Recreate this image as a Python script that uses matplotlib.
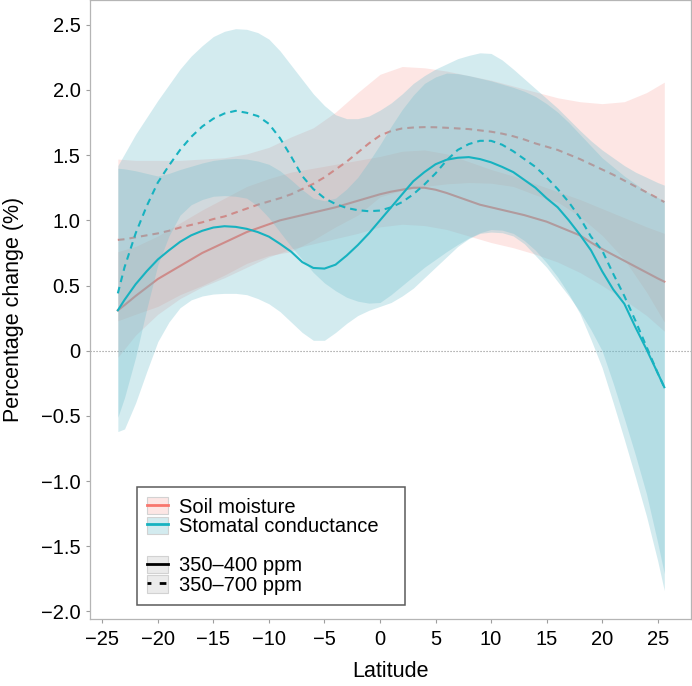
import matplotlib
matplotlib.use('Agg')
import matplotlib.pyplot as plt
from matplotlib.colors import to_rgba
from matplotlib.patches import Patch
from matplotlib.lines import Line2D

plt.rcParams['font.family'] = ['Liberation Sans', 'DejaVu Sans']

# latitudes the fitted lines (and stomatal bands) were read at, 1 degree steps
lat_line = [-23.6] + list(range(-23, 26)) + [25.6]

soil_400 = [0.31, 0.35, 0.42, 0.485, 0.55, 0.60, 0.65, 0.70, 0.75, 0.79, 0.83, 0.87, 0.91,
            0.94, 0.97, 1.00, 1.02, 1.04, 1.06, 1.08, 1.10, 1.125, 1.15, 1.175, 1.20, 1.22,
            1.235, 1.25, 1.25, 1.235, 1.21, 1.18, 1.15, 1.12, 1.10, 1.08, 1.06, 1.04, 1.015,
            0.99, 0.955, 0.92, 0.885, 0.83, 0.78, 0.735, 0.69, 0.645, 0.60, 0.555, 0.53]
soil_700 = [0.85, 0.855, 0.87, 0.885, 0.90, 0.92, 0.945, 0.965, 0.985, 1.01, 1.03, 1.06, 1.09,
            1.12, 1.145, 1.17, 1.20, 1.24, 1.28, 1.33, 1.39, 1.45, 1.52, 1.59, 1.65, 1.685,
            1.705, 1.712, 1.715, 1.714, 1.71, 1.705, 1.70, 1.69, 1.68, 1.665, 1.645, 1.62, 1.59,
            1.565, 1.54, 1.505, 1.47, 1.43, 1.39, 1.35, 1.305, 1.26, 1.215, 1.17, 1.14]
stom_400 = [0.31, 0.39, 0.51, 0.61, 0.70, 0.77, 0.835, 0.885, 0.92, 0.945, 0.955, 0.95, 0.935,
            0.91, 0.875, 0.82, 0.76, 0.68, 0.635, 0.63, 0.66, 0.73, 0.81, 0.90, 1.00, 1.10,
            1.20, 1.30, 1.37, 1.43, 1.465, 1.48, 1.485, 1.47, 1.445, 1.41, 1.37, 1.31, 1.25,
            1.17, 1.10, 1.00, 0.89, 0.77, 0.61, 0.47, 0.36, 0.18, 0.01, -0.17, -0.28]
stom_700 = [0.44, 0.64, 0.90, 1.11, 1.29, 1.42, 1.54, 1.64, 1.72, 1.78, 1.82, 1.84, 1.825,
            1.80, 1.74, 1.63, 1.49, 1.34, 1.24, 1.17, 1.125, 1.095, 1.078, 1.07, 1.075, 1.10,
            1.14, 1.20, 1.275, 1.36, 1.46, 1.54, 1.585, 1.61, 1.61, 1.58, 1.53, 1.47, 1.41,
            1.33, 1.24, 1.14, 1.02, 0.875, 0.77, 0.59, 0.42, 0.23, 0.03, -0.17, -0.28]

stom_400_hi = [1.40, 1.395, 1.38, 1.36, 1.34, 1.36, 1.39, 1.415, 1.44, 1.46, 1.47, 1.475, 1.47,
               1.455, 1.43, 1.38, 1.31, 1.235, 1.17, 1.15, 1.17, 1.24, 1.33, 1.45, 1.58, 1.72,
               1.85, 1.96, 2.05, 2.10, 2.13, 2.125, 2.11, 2.09, 2.07, 2.045, 2.02, 1.99, 1.95,
               1.895, 1.83, 1.75, 1.66, 1.57, 1.48, 1.41, 1.34, 1.28, 1.22, 1.175, 1.15]
stom_400_lo = [-0.62, -0.60, -0.40, -0.16, 0.07, 0.22, 0.33, 0.39, 0.42, 0.435, 0.44, 0.44, 0.43,
               0.40, 0.36, 0.30, 0.22, 0.14, 0.08, 0.08, 0.14, 0.21, 0.27, 0.31, 0.34, 0.37,
               0.42, 0.48, 0.56, 0.64, 0.72, 0.80, 0.86, 0.90, 0.91, 0.905, 0.88, 0.82, 0.73,
               0.64, 0.53, 0.42, 0.30, 0.16, 0.00, -0.25, -0.52, -0.80, -1.10, -1.47, -1.71]
stom_700_hi = [1.42, 1.51, 1.66, 1.79, 1.92, 2.04, 2.16, 2.26, 2.34, 2.41, 2.45, 2.47, 2.465,
               2.44, 2.39, 2.30, 2.19, 2.08, 1.97, 1.88, 1.81, 1.78, 1.78, 1.80, 1.845, 1.90,
               1.97, 2.05, 2.11, 2.16, 2.20, 2.24, 2.265, 2.285, 2.28, 2.23, 2.16, 2.085, 2.01,
               1.935, 1.86, 1.775, 1.69, 1.61, 1.54, 1.48, 1.42, 1.37, 1.33, 1.29, 1.27]
stom_700_lo = [-0.51, -0.36, -0.05, 0.32, 0.66, 0.88, 1.04, 1.12, 1.16, 1.185, 1.19, 1.185, 1.17,
               1.11, 1.02, 0.91, 0.80, 0.70, 0.60, 0.52, 0.46, 0.41, 0.38, 0.365, 0.37, 0.43,
               0.50, 0.57, 0.64, 0.70, 0.76, 0.815, 0.865, 0.905, 0.93, 0.925, 0.90, 0.845, 0.77,
               0.675, 0.565, 0.435, 0.285, 0.085, -0.13, -0.40, -0.68, -0.97, -1.27, -1.61, -1.84]

# latitudes the soil moisture bands were read at, 2 degree steps
lat_band = [-23.6, -22, -20, -18, -16, -14, -12, -10, -8, -6, -4, -2, 0,
            2, 4, 6, 8, 10, 12, 14, 16, 18, 20, 22, 24, 25.6]

soil_400_hi = [0.76, 0.80, 0.88, 0.98, 1.08, 1.17, 1.26, 1.32, 1.37, 1.40, 1.43, 1.46, 1.49,
               1.53, 1.54, 1.51, 1.45, 1.39, 1.34, 1.28, 1.22, 1.16, 1.09, 1.02, 0.95, 0.90]
soil_400_lo = [-0.05, 0.12, 0.28, 0.40, 0.49, 0.56, 0.64, 0.72, 0.78, 0.82, 0.86, 0.90, 0.95,
               0.97, 0.96, 0.93, 0.88, 0.83, 0.79, 0.74, 0.68, 0.60, 0.50, 0.39, 0.27, 0.15]
soil_700_hi = [1.47, 1.46, 1.46, 1.46, 1.47, 1.48, 1.51, 1.56, 1.64, 1.71, 1.83, 1.98, 2.12,
               2.18, 2.17, 2.145, 2.11, 2.075, 2.03, 1.985, 1.94, 1.91, 1.895, 1.91, 1.98, 2.06]
soil_700_lo = [0.23, 0.28, 0.34, 0.43, 0.50, 0.58, 0.67, 0.73, 0.76, 0.85, 0.95, 1.04, 1.18,
               1.23, 1.26, 1.28, 1.29, 1.285, 1.26, 1.195, 1.14, 1.03, 0.885, 0.70, 0.45, 0.22]

yticks = [2.5, 2.0, 1.5, 1.0, 0.5, 0, -0.5, -1.0, -1.5, -2.0]
ytick_labels = ['2.5', '2.0', '1.5', '1.0', '0.5', '0', '\u22120.5', '\u22121.0', '\u22121.5', '\u22122.0']
xticks = [-25, -20, -15, -10, -5, 0, 5, 10, 15, 20, 25]

SOIL = '#F8766D'
STOM = '#17B2C0'
STOM_FILL = '#6EBECD'
SOIL_A = 0.18
STOM_A = 0.30
DASH = (0, (3.2, 2.4))

fig = plt.figure(figsize=(6.92, 6.86), dpi=100)
ax = fig.add_axes([0.1305, 0.0972, 0.868, 0.9028])

ax.axhline(0, color='#8C8C8C', lw=0.8, ls=(0, (1, 1.7)), zorder=0.5)

# soil moisture ribbons and lines sit underneath the stomatal ribbons
ax.fill_between(lat_band, soil_400_lo, soil_400_hi, color=SOIL, alpha=SOIL_A, lw=0, zorder=1)
ax.fill_between(lat_band, soil_700_lo, soil_700_hi, color=SOIL, alpha=SOIL_A, lw=0, zorder=1)
ax.plot(lat_line, soil_400, color=SOIL, lw=1.5, zorder=1.2)
ax.plot(lat_line, soil_700, color=SOIL, lw=1.5, ls=DASH, zorder=1.2)

ax.fill_between(lat_line, stom_400_lo, stom_400_hi, color=STOM_FILL, alpha=STOM_A, lw=0, zorder=1.4)
ax.fill_between(lat_line, stom_700_lo, stom_700_hi, color=STOM_FILL, alpha=STOM_A, lw=0, zorder=1.4)
ax.plot(lat_line, stom_400, color=STOM, lw=1.5, zorder=2)
ax.plot(lat_line, stom_700, color=STOM, lw=1.5, ls=DASH, zorder=2)

ax.set_xlim(-26.08, 28.0)
ax.set_ylim(-2.06, 2.69)
ax.set_xticks(xticks)
ax.set_yticks(yticks)
ax.set_yticklabels(ytick_labels)
ax.tick_params(direction='out', length=3, width=0.8, color='#9E9E9E',
               labelsize=14.5, labelcolor='black')
ax.tick_params(axis='x', pad=4.5)
ax.tick_params(axis='y', pad=4)
for sp in ax.spines.values():
    sp.set_color('#B5B5B5')
    sp.set_linewidth(0.9)

ax.set_xlabel('Latitude', fontsize=15.5)
ax.set_ylabel('Percentage change (%)', fontsize=15.5)
ax.xaxis.set_label_coords(0.5, -0.067)
ax.yaxis.set_label_coords(-0.11, 0.5)

# legend: colour keys, a blank row, then line-type keys
edge = '#D2D2D2'
handles = [
    (Patch(facecolor=to_rgba(SOIL, SOIL_A), edgecolor=edge, lw=0.8), Line2D([], [], color=SOIL, lw=2)),
    (Patch(facecolor=to_rgba(STOM_FILL, STOM_A), edgecolor=edge, lw=0.8), Line2D([], [], color=STOM, lw=2)),
    Patch(facecolor='none', edgecolor='none'),
    (Patch(facecolor='#EBEBEB', edgecolor=edge, lw=0.8), Line2D([], [], color='black', lw=2)),
    (Patch(facecolor='#EBEBEB', edgecolor=edge, lw=0.8), Line2D([], [], color='black', lw=2, ls=(1, (2.4, 3)))),
]
labels = ['Soil moisture', 'Stomatal conductance', '', '350\u2013400 ppm', '350\u2013700 ppm']
leg = ax.legend(handles, labels, loc='lower left', bbox_to_anchor=(0.0772, 0.0231, 0.447, 0.19),
                mode='expand', borderaxespad=0, fontsize=14.5, frameon=True, fancybox=False,
                handlelength=1.05, handleheight=0.95, handletextpad=0.55,
                labelspacing=0.0, borderpad=0.5)
leg.get_frame().set_edgecolor('#333333')
leg.get_frame().set_linewidth(1.1)

fig.savefig('out.png', dpi=100)
